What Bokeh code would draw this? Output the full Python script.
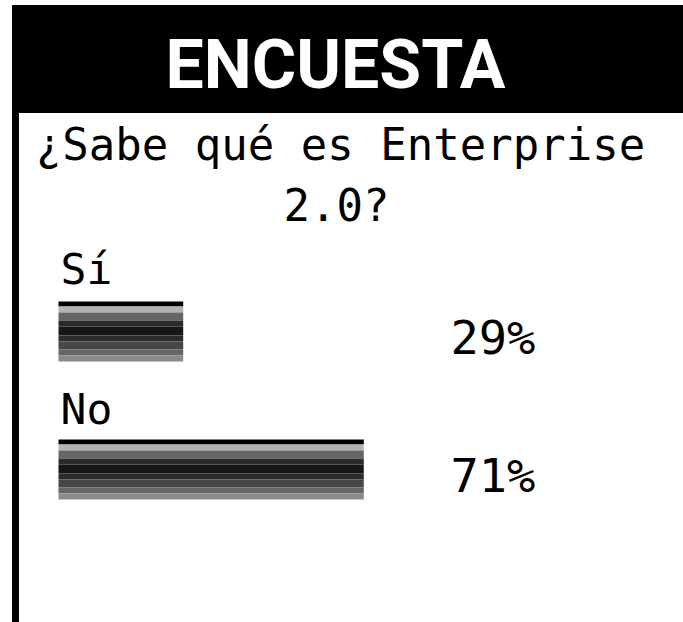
from bokeh.plotting import figure
from bokeh.models import Range1d
from bokeh.core.properties import value
from bokeh.embed import file_html
from bokeh.resources import INLINE

# ---- data ----
header_text = "ENCUESTA"
question_lines = ["¿Sabe qué es Enterprise", "2.0?"]
categories = ["Sí", "No"]
percentages = [29, 71]
pct_labels = [f"{v}%" for v in percentages]

# ---- layout (screen-pixel helpers) ----
W, H = 683, 622
X0 = 58.0      # pixel where 0 % sits
PX_PER_PCT = 4.3
def px(x):
    return (x - X0) / PX_PER_PCT

p = figure(width=W, height=H, output_backend="svg", toolbar_location=None,
           x_range=Range1d(px(0), px(W)), y_range=Range1d(H, 0),
           min_border=0, border_fill_color="white", background_fill_color="white")
p.axis.visible = False
p.grid.visible = False
p.outline_line_color = None

# header band and left border
p.quad(left=[px(12)], right=[px(720)], top=[5], bottom=[112], color="black")
p.quad(left=[px(12)], right=[px(18)], top=[111], bottom=[640], color="black")

p.text(x=[px(335)], y=[64], text=[header_text], text_color="white",
       text_font=value("Roboto"), text_font_style="bold", text_font_size="68px",
       text_align="center", text_baseline="alphabetic")

mono = value("DejaVu Sans Mono")
p.text(x=[px(340), px(336)], y=[144, 205], text=question_lines, text_color="black",
       text_font=mono, text_font_size="44px", text_align="center",
       text_baseline="alphabetic")

# category labels
p.text(x=[px(60)] * len(categories), y=[268, 408], text=categories, text_color="black",
       text_font=mono, text_font_size="43px", text_align="left",
       text_baseline="alphabetic")

# striped bars
bar_tops = [301, 439]
stripes = [("#000000", 5), ("#b3b3b3", 6), ("#666666", 8), ("#2a2a2a", 6),
           ("#171717", 9), ("#2c2c2c", 6), ("#474747", 8), ("#666666", 6),
           ("#8a8a8a", 6)]
off = 0
for col, th in stripes:
    ys = [t + off + th / 2 for t in bar_tops]
    p.hbar(y=ys, height=th, left=0, right=percentages, color=col, line_width=0)
    off += th

# percentage labels
p.text(x=[px(450)] * len(pct_labels), y=[337, 475], text=pct_labels, text_color="black",
       text_font=mono, text_font_size="47px", text_align="left",
       text_baseline="alphabetic")

open("out.html", "w").write(file_html(p, INLINE))
